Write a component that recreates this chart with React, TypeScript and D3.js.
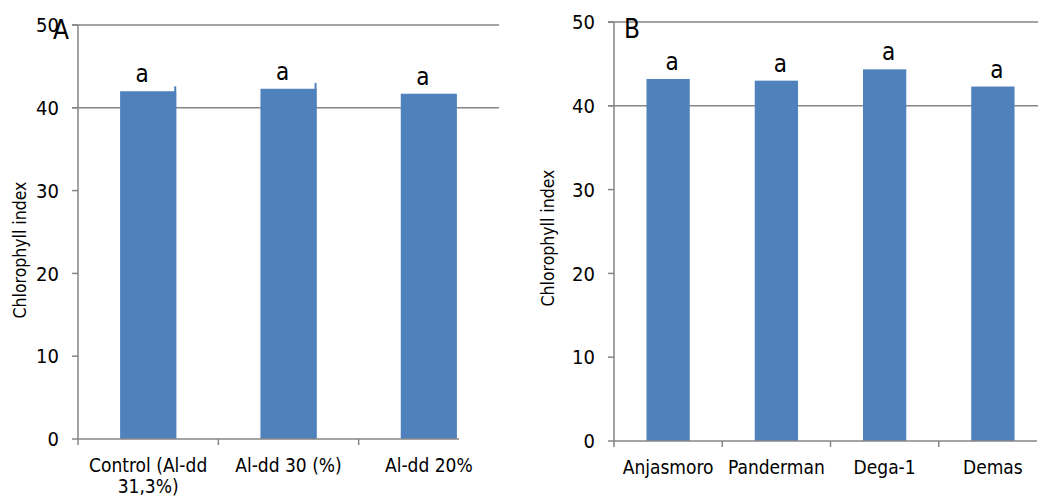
import React from "react";
import * as d3 from "d3";

// panel A: aluminium treatments
const catsA = ["Control (Al-dd\n31,3%)", "Al-dd 30 (%)", "Al-dd 20%"];
const valsA = [42.0, 42.3, 41.7];
const spikeA = [42.6, 43.0, null]; // small slivers visible at the right edge of the bars
const lettersA = ["a", "a", "a"];

// panel B: varieties
const catsB = ["Anjasmoro", "Panderman", "Dega-1", "Demas"];
const valsB = [43.2, 43.0, 44.35, 42.3];
const lettersB = ["a", "a", "a", "a"];

const yTicks = [0, 10, 20, 30, 40, 50];
const gridTicks = [40, 50];

const FONT = "'DejaVu Sans Condensed', 'DejaVu Sans', sans-serif";
const BAR = "#4F81BD";
const AXIS = "#868686";

type PanelProps = {
  cats: string[];
  vals: number[];
  letters: string[];
  spikes?: (number | null)[];
  x0: number;
  x1: number;
  axisEnd: number;
  gridEnd: number;
  yTop: number;
  yBottom: number;
  label: string;
  labelX: number;
  labelY: number;
  letterDx: number;
};

const Panel = (p: PanelProps) => {
  const x = d3
    .scaleBand<string>()
    .domain(p.cats)
    .range([p.x0, p.x1])
    .paddingInner(0.6)
    .paddingOuter(0.3);
  const y = d3.scaleLinear().domain([0, 50]).range([p.yBottom, p.yTop]);
  const step = x.step();
  const boundaries = p.cats.map((_, i) => p.x0 + i * step);

  return (
    <g fontFamily={FONT}>
      {/* grid lines */}
      {gridTicks.map((t) => (
        <line key={"g" + t} x1={p.x0 - 6} x2={p.gridEnd} y1={y(t)} y2={y(t)} stroke={AXIS} strokeWidth={1.5} />
      ))}
      {/* bars */}
      {p.cats.map((c, i) => (
        <rect key={c} x={x(c)} y={y(p.vals[i])} width={x.bandwidth()} height={y(0) - y(p.vals[i])} fill={BAR} />
      ))}
      {p.spikes &&
        p.cats.map((c, i) =>
          p.spikes![i] == null ? null : (
            <rect
              key={"s" + c}
              x={(x(c) as number) + x.bandwidth() - 2}
              y={y(p.spikes![i] as number)}
              width={2}
              height={y(0) - y(p.spikes![i] as number)}
              fill={BAR}
            />
          )
        )}
      {/* letters */}
      {p.cats.map((c, i) => (
        <text
          key={"l" + c}
          x={(x(c) as number) + x.bandwidth() / 2 + p.letterDx}
          y={y(p.vals[i]) - 9}
          textAnchor="middle"
          fontSize={24}
        >
          {p.letters[i]}
        </text>
      ))}
      {/* y axis */}
      <line x1={p.x0} x2={p.x0} y1={y(50)} y2={y(0)} stroke={AXIS} strokeWidth={1.5} />
      {yTicks.map((t) => (
        <g key={"y" + t}>
          <line x1={p.x0 - 6} x2={p.x0} y1={y(t)} y2={y(t)} stroke={AXIS} strokeWidth={1.5} />
          <text x={p.x0 - 19} y={y(t)} dy="0.36em" textAnchor="end" fontSize={20}>
            {t}
          </text>
        </g>
      ))}
      {/* x axis */}
      <line x1={p.x0} x2={p.axisEnd} y1={y(0)} y2={y(0)} stroke={AXIS} strokeWidth={1.5} />
      {boundaries.map((b, i) => (
        <line key={"xt" + i} x1={b} x2={b} y1={y(0)} y2={y(0) + 6} stroke={AXIS} strokeWidth={1.5} />
      ))}
      {p.cats.map((c) => {
        const lines = c.split("\n");
        const cx = (x(c) as number) + x.bandwidth() / 2;
        return (
          <text key={"xl" + c} x={cx} y={y(0) + 33} textAnchor="middle" fontSize={19}>
            {lines.map((ln, j) => (
              <tspan key={j} x={cx} dy={j === 0 ? 0 : 21}>
                {ln}
              </tspan>
            ))}
          </text>
        );
      })}
      {/* axis title */}
      <text
        transform={`translate(${p.labelX},${p.labelY}) rotate(-90)`}
        textAnchor="middle"
        dy="0.35em"
        fontSize={17.5}
      >
        {p.label}
      </text>
    </g>
  );
};

const App = () => {
  return (
    <svg
      width={1038}
      height={498}
      style={{ position: "absolute", left: 0, top: 0, background: "#fff" }}
    >
      <Panel
        cats={catsA}
        vals={valsA}
        letters={lettersA}
        spikes={spikeA}
        x0={78}
        x1={499}
        axisEnd={459}
        gridEnd={499}
        yTop={25}
        yBottom={439}
        label="Chlorophyll index"
        labelX={20}
        labelY={250}
        letterDx={-6}
      />
      <Panel
        cats={catsB}
        vals={valsB}
        letters={lettersB}
        x0={614}
        x1={1047}
        axisEnd={1037}
        gridEnd={1038}
        yTop={22}
        yBottom={441}
        label="Chlorophyll index"
        labelX={548}
        labelY={238}
        letterDx={4}
      />
      <text x={53} y={39} fontSize={26} fontFamily={FONT}>
        A
      </text>
      <text x={624} y={38} fontSize={26} fontFamily={FONT}>
        B
      </text>
    </svg>
  );
};

export default App;
